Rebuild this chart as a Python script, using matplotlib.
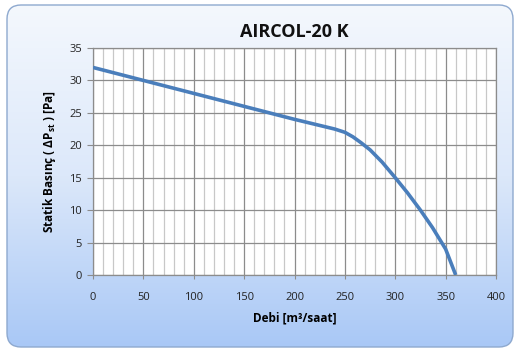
import numpy as np
import matplotlib.pyplot as plt
from matplotlib.patches import FancyBboxPatch
from matplotlib.colors import LinearSegmentedColormap

# fan curve
debi = [0, 50, 100, 150, 200, 240, 250, 258, 266, 275, 287, 300, 312, 325, 337, 350, 360]
basinc = [32, 30, 28, 26, 24, 22.5, 22.0, 21.3, 20.4, 19.3, 17.4, 15.0, 12.7, 10.0, 7.3, 4.0, 0]

x_ticks = [0, 50, 100, 150, 200, 250, 300, 350, 400]
y_ticks = [0, 5, 10, 15, 20, 25, 30, 35]

plt.rcParams['font.family'] = ['Open Sans', 'DejaVu Sans']

fig = plt.figure(figsize=(5.2, 3.55), dpi=100)

# background: rounded box with a white -> light blue gradient
bg = fig.add_axes([0, 0, 1, 1])
bg.set_xlim(0, 520)
bg.set_ylim(355, 0)
bg.axis('off')
cmap = LinearSegmentedColormap.from_list('bg', ['#f4f8fd', '#dce8fa', '#a9c8f6'])
grad = np.linspace(0, 1, 256).reshape(-1, 1)
img = bg.imshow(grad, cmap=cmap, extent=[7, 513, 347, 5], aspect='auto', zorder=0)
box = FancyBboxPatch((7, 5), 506, 342, boxstyle='round,pad=0,rounding_size=14',
                     facecolor='none', edgecolor='#8ea9cf', linewidth=1.0, zorder=2)
bg.add_patch(box)
img.set_clip_path(box)

ax = fig.add_axes([93 / 520, 1 - 275 / 355, 403 / 520, 227 / 355])
ax.set_facecolor('white')
ax.plot(debi, basinc, color='#4a7ebb', linewidth=2.6, solid_capstyle='butt',
        solid_joinstyle='round', zorder=3)

ax.set_xlim(0, 400)
ax.set_ylim(0, 35)
ax.set_xticks(x_ticks)
ax.set_yticks(y_ticks)
ax.set_xticks(np.arange(0, 401, 10), minor=True)
ax.grid(which='minor', axis='x', color='#c8c8c8', linewidth=0.9)
ax.grid(which='major', axis='x', color='#8c8c8c', linewidth=0.9)
ax.grid(which='major', axis='y', color='#8c8c8c', linewidth=0.9)
ax.set_axisbelow(True)
for s in ax.spines.values():
    s.set_color('#8c8c8c')
    s.set_linewidth(0.9)

ax.tick_params(axis='both', which='major', labelsize=8, colors='#8c8c8c', labelcolor='#222222', length=4, direction='out')
ax.tick_params(axis='x', which='major', pad=9, length=3)
ax.tick_params(axis='x', which='minor', length=0)
ax.tick_params(axis='y', pad=4)

ax.set_title('AIRCOL-20 K', fontsize=13, fontweight='bold', color='#111111', pad=8)
ax.set_xlabel('Debi [m³/saat]', fontsize=8.5, fontweight='bold', labelpad=6)
ax.set_ylabel('Statik Basınç ( ΔP$_{\\mathregular{st}}$ ) [Pa]', fontsize=8.5, fontweight='bold', labelpad=8)

fig.savefig('out.png', dpi=100)
